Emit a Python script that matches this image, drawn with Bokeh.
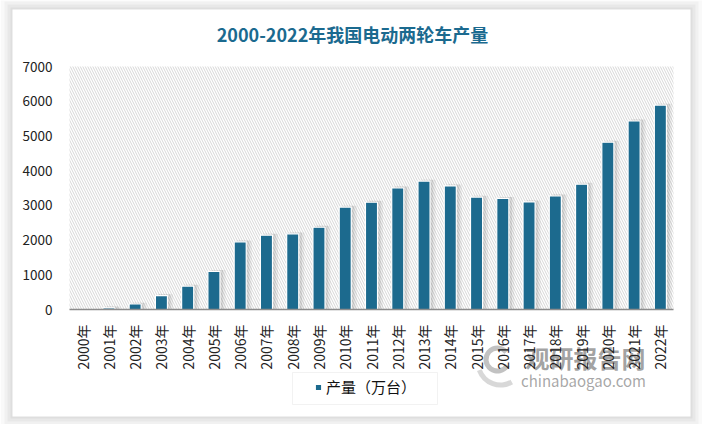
import math
from bokeh.plotting import figure
from bokeh.models import (Range1d, FixedTicker, BoxAnnotation, Label, Legend,
                          LegendItem, ColumnDataSource, LinearAxis)
from bokeh.embed import file_html
from bokeh.resources import INLINE

# ---- data ----
years = ["2000年", "2001年", "2002年", "2003年", "2004年", "2005年", "2006年",
         "2007年", "2008年", "2009年", "2010年", "2011年", "2012年", "2013年",
         "2014年", "2015年", "2016年", "2017年", "2018年", "2019年", "2020年",
         "2021年", "2022年"]
output = [0, 45, 158, 400, 675, 1100, 1950, 2140, 2180, 2370, 2950, 3090, 3500,
          3700, 3560, 3240, 3200, 3100, 3270, 3610, 4820, 5430, 5890]
y_ticks = [0, 1000, 2000, 3000, 4000, 5000, 6000, 7000]
title_text = "2000-2022年我国电动两轮车产量"
series_name = "产量（万台）"

FONT = "Noto Sans CJK SC"
BAR = "#1c6a8e"
W, H = 702, 424
n = len(years)
YMAX = 7000

# pixel layout of the plot area (page pixels)
FL, FR, FT, FB = 69, 673, 66, 309
sx = (FR - FL) / n          # px per category
sy = YMAX / (FB - FT)       # data per px


def px2x(px):
    return (px - FL) / sx


def py2y(py):
    return (FB - py) * sy


xpos = [i + 0.5 for i in range(n)]
src = ColumnDataSource(dict(x=xpos, top=output,
                            sx1=[v + 0.10 for v in xpos],
                            sx2=[v + 0.18 for v in xpos],
                            stop=[t + 40 if t > 0 else 0 for t in output]))

p = figure(width=W, height=H, output_backend="svg", toolbar_location=None,
           x_range=Range1d(px2x(0), px2x(W)), y_range=Range1d(py2y(H), py2y(0)),
           x_axis_location=None, y_axis_location=None, min_border=0)
p.outline_line_color = None
p.background_fill_color = "white"
p.border_fill_color = "white"
p.xgrid.grid_line_color = None
p.ygrid.grid_line_color = None

# card shadow + card
CL, CR, CT, CB = 12, 690, 9, 416
for d, a in [(12, 0.025), (8, 0.03), (5, 0.035), (2, 0.04)]:
    p.add_layout(BoxAnnotation(left=px2x(CL - d), right=px2x(CR + d),
                               top=py2y(CT - d), bottom=py2y(CB + d),
                               fill_color="black", fill_alpha=a,
                               line_color=None, level="underlay"))
p.add_layout(BoxAnnotation(left=px2x(CL), right=px2x(CR), top=py2y(CT),
                           bottom=py2y(CB), fill_color="white", fill_alpha=1.0,
                           line_color=None, level="underlay"))

# hatched plot area
p.add_layout(BoxAnnotation(left=0, right=n, bottom=0, top=YMAX,
                           fill_color="white", fill_alpha=1.0,
                           hatch_pattern="\\", hatch_color="#c8c8c8",
                           hatch_scale=5, hatch_weight=1, hatch_alpha=0.75,
                           line_color=None, level="underlay"))

# legend frame
p.add_layout(BoxAnnotation(left=px2x(292), right=px2x(437), top=py2y(372),
                           bottom=py2y(404), fill_color="white", fill_alpha=1.0,
                           line_color="#d4d4d4", line_width=1, level="underlay"))

# watermark texts (behind axis labels)
p.add_layout(Label(x=px2x(585), y=py2y(357), text="观研报告网", text_font=FONT,
                   text_font_size="24px", text_font_style="bold",
                   text_color="#7a7a7a", text_alpha=0.7, text_align="center",
                   text_baseline="middle", level="underlay"))
p.add_layout(Label(x=px2x(583), y=py2y(380), text="chinabaogao.com", text_font=FONT,
                   text_font_size="15px", text_color="#8a8a8a", text_alpha=0.75,
                   text_align="center", text_baseline="middle", level="underlay"))

# soft shadows of bars
p.vbar(x="sx2", top="stop", width=0.52, bottom=0, source=src,
       fill_color="black", fill_alpha=0.06, line_color=None)
p.vbar(x="sx1", top="stop", width=0.50, bottom=0, source=src,
       fill_color="black", fill_alpha=0.08, line_color=None)
bars = p.vbar(x="x", top="top", width=0.46, bottom=0, source=src,
              fill_color=BAR, line_color="white", line_width=1.2)

# watermark logo swirl
p.annular_wedge(x=[px2x(497)], y=[py2y(359)], inner_radius=9, outer_radius=14,
                inner_radius_units="screen", outer_radius_units="screen",
                start_angle=math.radians(40), end_angle=math.radians(330),
                fill_color="#8f8f8f", fill_alpha=0.55, line_color=None)
p.annular_wedge(x=[px2x(500)], y=[py2y(362)], inner_radius=20, outer_radius=25,
                inner_radius_units="screen", outer_radius_units="screen",
                start_angle=math.radians(200), end_angle=math.radians(300),
                fill_color="#a8a8a8", fill_alpha=0.45, line_color=None)

# axes (placed at data positions inside the frame)
xa = LinearAxis(fixed_location=0, bounds=(0, n))
xa.ticker = FixedTicker(ticks=xpos)
xa.major_label_overrides = {xv: lab for xv, lab in zip(xpos, years)}
xa.major_label_orientation = math.pi / 2
xa.major_tick_line_color = None
xa.minor_tick_line_color = None
xa.major_label_standoff = 9
xa.axis_line_color = "#8c8c8c"
xa.axis_line_width = 1.5
xa.major_label_text_font = FONT
xa.major_label_text_font_size = "14px"
xa.major_label_text_color = "#222222"
p.add_layout(xa, "below")

ya = LinearAxis(fixed_location=0, bounds=(0, YMAX))
ya.ticker = FixedTicker(ticks=y_ticks)
ya.axis_line_color = None
ya.major_tick_line_color = None
ya.minor_tick_line_color = None
ya.major_label_standoff = 11
ya.major_label_text_font = FONT
ya.major_label_text_font_size = "13.5px"
ya.major_label_text_color = "#222222"
p.add_layout(ya, "left")

# title
p.add_layout(Label(x=px2x(352), y=py2y(33), text=title_text, text_font=FONT,
                   text_font_size="18px", text_font_style="bold",
                   text_color="#1b6a8f", text_align="center",
                   text_baseline="middle"))

legend = Legend(items=[LegendItem(label=series_name, renderers=[bars])],
                location=(314, H - 397), padding=0, margin=0,
                border_line_color=None, background_fill_alpha=0.0,
                glyph_width=8, glyph_height=8, label_standoff=4,
                label_height=18, label_text_font=FONT,
                label_text_font_size="15px", label_text_color="#111111")
p.add_layout(legend)

open("out.html", "w").write(file_html(p, INLINE))
